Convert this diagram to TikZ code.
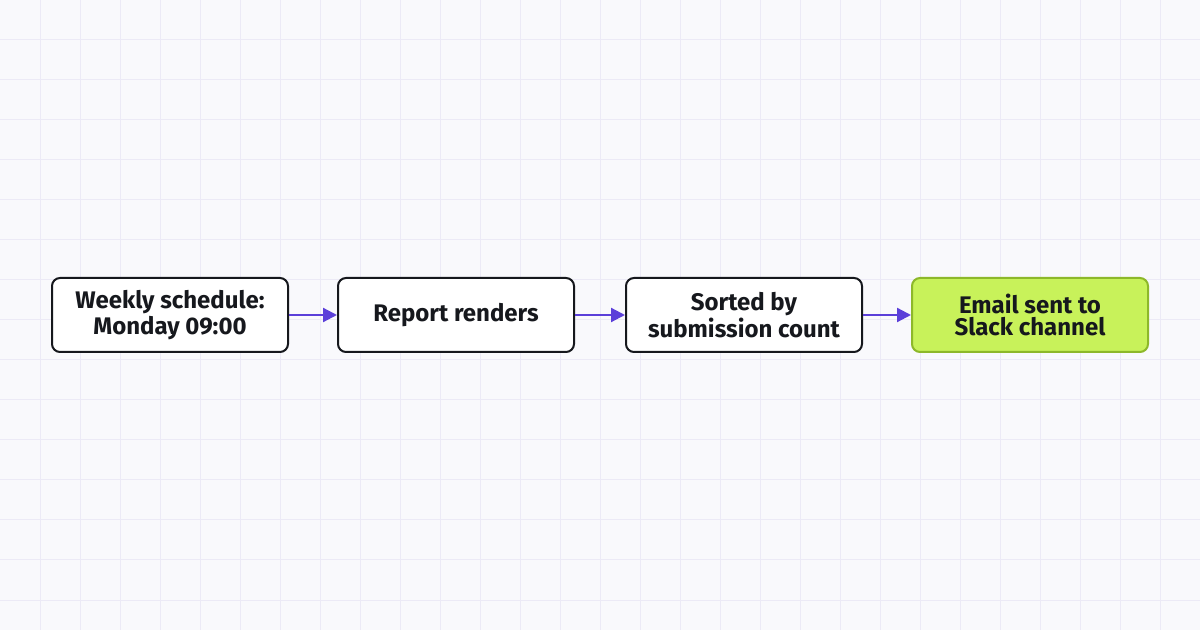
\documentclass[tikz,border=0pt]{standalone}
\usepackage{fontspec}
\setmainfont{Fira Sans}
\usetikzlibrary{arrows.meta}
\definecolor{bg}{HTML}{F9F9FC}
\definecolor{gridc}{HTML}{ECEAF6}
\definecolor{arr}{HTML}{5B3FD9}
\definecolor{gfill}{HTML}{C8F25A}
\definecolor{gdraw}{HTML}{8DB82A}
\definecolor{ink}{HTML}{16181D}
\begin{document}
\begin{tikzpicture}[x=0.5pt,y=-0.5pt,
  box/.style={draw=ink,line width=1pt,fill=white,rounded corners=4pt,minimum width=118pt,minimum height=37pt,inner sep=0pt,align=center,font=\fontsize{12}{10.8}\selectfont\bfseries,text=ink},
  green/.style={box,fill=gfill,draw=gdraw},
  conn/.style={draw=arr,line width=1.1pt,-{Triangle[length=7pt,width=7pt]}}]
\fill[bg] (0,0) rectangle (1200,630);
\useasboundingbox (0,0) rectangle (1200,630);
\foreach \i in {40,80,...,1160} \draw[gridc,line width=0.5pt] (\i,0) -- (\i,630);
\foreach \j in {40,80,...,600} \draw[gridc,line width=0.5pt] (0,\j) -- (1200,\j);
\node[box] (a) at (170,315) {Weekly schedule:\\Monday 09:00};
\node[box] (b) at (456,315) {Report renders};
\node[box] (c) at (744,315) {Sorted by\\submission count};
\node[green] (d) at (1030,315) {Email sent to\\Slack channel};
\draw[conn] (a) -- (b);
\draw[conn] (b) -- (c);
\draw[conn] (c) -- (d);
\end{tikzpicture}
\end{document}
